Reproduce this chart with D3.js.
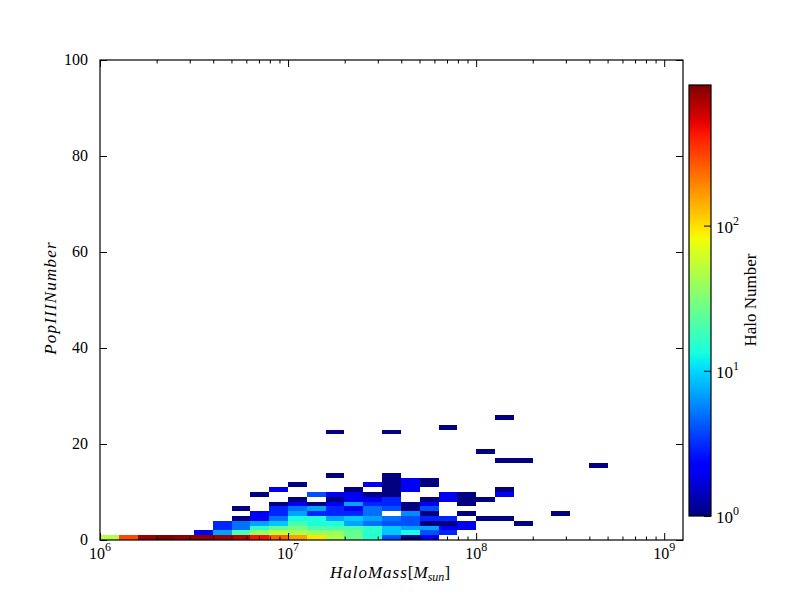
<!DOCTYPE html>
<html>
<head>
<meta charset="utf-8">
<script src="https://cdn.jsdelivr.net/npm/d3@7"></script>
<style>
body { margin: 0; background: #fff; }
text { font-family: "Liberation Serif", "DejaVu Serif", serif; }
</style>
</head>
<body>
<script>
// lower edge of each mass bin (log10 Msun), bins are 0.1 dex wide
var logMassBins = [6.0, 6.1, 6.2, 6.3, 6.4, 6.5, 6.6, 6.7, 6.8, 6.9,
                   7.0, 7.1, 7.2, 7.3, 7.4, 7.5, 7.6, 7.7, 7.8, 7.9,
                   8.0, 8.1, 8.2, 8.4, 8.6];
// PopIII number (lower edge of unit bins) of the filled cells in each mass bin
var popBins = [
    [0], [0], [0], [0], [0], [0, 1], [0, 1, 2, 3], [0, 1, 2, 3, 4, 6],
    [0, 1, 2, 3, 4, 5, 9],
    [0, 1, 2, 3, 4, 5, 6, 7, 10],
    [0, 1, 2, 3, 4, 5, 6, 7, 8, 11],
    [0, 1, 2, 3, 4, 5, 6, 7, 9],
    [0, 1, 2, 3, 4, 5, 6, 7, 8, 9, 13, 22],
    [0, 1, 2, 3, 4, 5, 6, 7, 8, 9, 10],
    [0, 1, 2, 3, 4, 5, 6, 7, 8, 9, 11],
    [0, 1, 2, 3, 4, 6, 7, 8, 9, 10, 11, 12, 13, 22],
    [0, 1, 2, 3, 4, 5, 6, 7, 10, 11, 12],
    [0, 1, 2, 3, 4, 5, 6, 7, 8, 11, 12],
    [1, 2, 3, 4, 8, 9, 23],
    [2, 3, 5, 7, 8, 9],
    [4, 8, 18],
    [4, 9, 10, 16, 25],
    [3, 16],
    [5],
    [15]
];
// halo counts of those cells
var haloCounts = [
    [49], [300], [800], [930], [850], [850, 2], [800, 7, 3, 3], [680, 20, 5, 5, 1, 1],
    [450, 36, 16, 7, 2, 2, 1],
    [250, 52, 24, 9, 5, 3, 3, 1, 2],
    [160, 45, 30, 20, 13, 7, 5, 2, 1, 1],
    [95, 38, 20, 14, 14, 3, 7, 1, 4],
    [45, 38, 20, 14, 7, 3, 3, 2, 1, 2, 1, 1],
    [26, 25, 20, 7, 9, 3, 2, 7, 2, 2, 1],
    [15, 15, 16, 5, 7, 5, 5, 3, 2, 1, 2],
    [4, 9, 9, 4, 5, 4, 3, 3, 1, 1, 1, 1, 1, 1],
    [1, 13, 7, 4, 4, 6, 1, 1, 2, 2, 2],
    [2, 4, 7, 1, 3, 1, 4, 2, 1, 1, 1],
    [3, 2, 1, 3, 2, 2, 1],
    [2, 2, 1, 1, 1, 1],
    [1, 1, 1],
    [1, 2, 1, 1, 1],
    [1, 1],
    [1],
    [1]
];
var xMajor = [6, 7, 8, 9];
var yTicks = [0, 20, 40, 60, 80, 100];
var cbarTicks = [0, 1, 2];

var binWidth = 0.1;
var cells = [];
logMassBins.forEach(function(lm, i){
    popBins[i].forEach(function(p, j){
        cells.push({lm: lm, pop: p, n: haloCounts[i][j]});
    });
});
var maxCount = d3.max(cells, function(d){ return d.n; });

var svg = d3.select("body").append("svg")
    .attr("width", 800).attr("height", 600);
svg.append("rect").attr("width", 800).attr("height", 600).attr("fill", "#fff");

var x = d3.scaleLog().domain([1e6, Math.pow(10, 9.1)]).range([100, 683]);
var y = d3.scaleLinear().domain([0, 100]).range([540, 60]);

// matplotlib jet
var jr = d3.scaleLinear().domain([0, 0.35, 0.66, 0.89, 1]).range([0, 0, 1, 1, 0.5]).clamp(true);
var jg = d3.scaleLinear().domain([0, 0.125, 0.375, 0.64, 0.91, 1]).range([0, 0, 1, 1, 0, 0]).clamp(true);
var jb = d3.scaleLinear().domain([0, 0.11, 0.34, 0.65, 1]).range([0.5, 1, 1, 0, 0]).clamp(true);
function jet(t){ return d3.rgb(jr(t) * 255, jg(t) * 255, jb(t) * 255).toString(); }
var norm = d3.scaleLog().domain([1, maxCount]).range([0, 1]).clamp(true);

svg.append("g").selectAll("rect")
    .data(cells)
    .enter()
    .append("rect")
    .attr("x", function(d){ return x(Math.pow(10, d.lm)); })
    .attr("width", function(d){ return x(Math.pow(10, d.lm + binWidth)) - x(Math.pow(10, d.lm)); })
    .attr("y", function(d){ return y(d.pop + 1); })
    .attr("height", function(d){ return y(d.pop) - y(d.pop + 1); })
    .attr("fill", function(d){ return jet(norm(d.n)); })
    .attr("shape-rendering", "crispEdges");

// ticks, pointing inward on all four sides
var minor = [];
for (var e = 6; e < 9.1; e++) {
    for (var k = 2; k <= 9; k++) {
        if (Math.log10(k) + e < 9.1) minor.push(k * Math.pow(10, e));
    }
}
var majorVals = xMajor.map(function(e){ return Math.pow(10, e); });

function tickAxis(axis, tx, ty){
    svg.append("g").attr("transform", "translate(" + tx + "," + ty + ")").call(axis)
        .call(function(g){ g.select(".domain").remove(); g.selectAll("text").remove(); })
        .selectAll("line").attr("stroke", "#000");
}
tickAxis(d3.axisBottom(x).tickValues(majorVals).tickSizeInner(-7).tickSizeOuter(0), 0, 540);
tickAxis(d3.axisBottom(x).tickValues(minor).tickSizeInner(-3.5).tickSizeOuter(0), 0, 540);
tickAxis(d3.axisTop(x).tickValues(majorVals).tickSizeInner(-7).tickSizeOuter(0), 0, 60);
tickAxis(d3.axisTop(x).tickValues(minor).tickSizeInner(-3.5).tickSizeOuter(0), 0, 60);
tickAxis(d3.axisLeft(y).tickValues(yTicks).tickSizeInner(-7).tickSizeOuter(0), 100, 0);
tickAxis(d3.axisRight(y).tickValues(yTicks).tickSizeInner(-7).tickSizeOuter(0), 683, 0);

svg.append("rect").attr("x", 100).attr("y", 60).attr("width", 583).attr("height", 480)
    .attr("fill", "none").attr("stroke", "#000").attr("stroke-width", 1.2);

function power(sel, e){
    sel.append("tspan").text("10");
    sel.append("tspan").attr("dy", -8).attr("font-size", 12).text(e);
}

svg.append("g").selectAll("text").data(xMajor).enter().append("text")
    .attr("x", function(d){ return x(Math.pow(10, d)); })
    .attr("y", 559)
    .attr("text-anchor", "middle")
    .attr("font-size", 16)
    .each(function(d){ power(d3.select(this), d); });

svg.append("g").selectAll("text").data(yTicks).enter().append("text")
    .attr("x", 88)
    .attr("y", function(d){ return y(d) + 5; })
    .attr("text-anchor", "end")
    .attr("font-size", 16)
    .text(function(d){ return d; });

// axis labels
var xl = svg.append("text").attr("x", 390).attr("y", 578).attr("text-anchor", "middle")
    .attr("font-size", 17);
xl.append("tspan").attr("font-style", "italic").attr("letter-spacing", 1).text("HaloMass");
xl.append("tspan").text("[");
xl.append("tspan").attr("font-style", "italic").text("M");
xl.append("tspan").attr("font-style", "italic").attr("font-size", 12).attr("dy", 3).text("sun");
xl.append("tspan").attr("dy", -3).text("]");

svg.append("text")
    .attr("transform", "translate(56,298) rotate(-90)")
    .attr("text-anchor", "middle")
    .attr("font-size", 17)
    .attr("font-style", "italic")
    .attr("letter-spacing", 1.2)
    .text("PopIIINumber");

// colorbar
var cTop = 85, cBot = 516, cLeft = 689, cW = 22;
var c = d3.scaleLog().domain([1, maxCount]).range([cBot, cTop]);
var grad = svg.append("defs").append("linearGradient").attr("id", "jet")
    .attr("x1", 0).attr("y1", 1).attr("x2", 0).attr("y2", 0);
d3.range(0, 1.0001, 0.02).forEach(function(t){
    grad.append("stop").attr("offset", t).attr("stop-color", jet(t));
});
svg.append("rect").attr("x", cLeft).attr("y", cTop).attr("width", cW).attr("height", cBot - cTop)
    .attr("fill", "url(#jet)");
tickAxis(d3.axisRight(c).tickValues(cbarTicks.map(function(e){ return Math.pow(10, e); }))
    .tickSizeInner(-7).tickSizeOuter(0), cLeft + cW, 0);
svg.append("rect").attr("x", cLeft).attr("y", cTop).attr("width", cW).attr("height", cBot - cTop)
    .attr("fill", "none").attr("stroke", "#000").attr("stroke-width", 1.2);

svg.append("g").selectAll("text").data(cbarTicks).enter().append("text")
    .attr("x", cLeft + cW + 5)
    .attr("y", function(d){ return c(Math.pow(10, d)) + 7; })
    .attr("font-size", 17)
    .each(function(d){ power(d3.select(this), d); });

svg.append("text")
    .attr("transform", "translate(756,300) rotate(-90)")
    .attr("text-anchor", "middle")
    .attr("font-size", 17)
    .text("Halo Number");
</script>
</body>
</html>
